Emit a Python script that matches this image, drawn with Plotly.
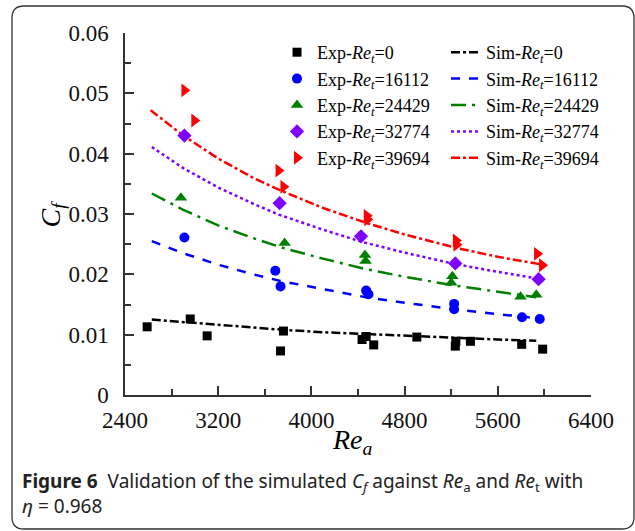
import plotly.graph_objects as go

# ---------------- data ----------------
series_names = ["0", "16112", "24429", "32774", "39694"]
colors = ["#000000", "#0000ff", "#008000", "#8000ff", "#ff0000"]
symbols = ["square", "circle", "triangle-up", "diamond", "triangle-right"]
marker_sizes = [9, 10, 11, 11, 12]
dashes = ["dashdot", "dash", "longdashdot", "dot", "dashdot"]

exp0_x = [2590, 2960, 3105, 3735, 3760, 4435, 4470, 4535, 4905, 5235, 5240, 5365, 5805, 5985]
exp0_y = [0.0113, 0.0126, 0.0098, 0.0073, 0.0106, 0.0092, 0.0097, 0.0083, 0.0096, 0.0081, 0.0089, 0.0089, 0.0084, 0.0076]
exp1_x = [2910, 3690, 3735, 4470, 4490, 5225, 5225, 5808, 5960]
exp1_y = [0.0261, 0.0206, 0.0180, 0.0173, 0.0167, 0.0151, 0.0142, 0.0129, 0.0126]
exp2_x = [2880, 3770, 4460, 4465, 5210, 5200, 5795, 5930]
exp2_y = [0.0327, 0.0252, 0.0232, 0.0222, 0.0197, 0.0186, 0.0163, 0.0166]
exp3_x = [2910, 3727, 4426, 5235, 5950]
exp3_y = [0.0430, 0.0318, 0.0263, 0.0218, 0.0192]
exp4_x = [2910, 2995, 3718, 3760, 4475, 4480, 5240, 5245, 5937, 5980]
exp4_y = [0.0505, 0.0455, 0.0372, 0.0345, 0.0297, 0.0291, 0.0256, 0.0249, 0.0234, 0.0215]

sim0_x = [2630, 2900, 3200, 3500, 3760, 4100, 4470, 4900, 5240, 5600, 5930]
sim0_y = [0.0125, 0.0121, 0.0116, 0.0112, 0.0108, 0.0104, 0.0101, 0.0097, 0.0094, 0.0092, 0.0090]
sim1_x = [2630, 2900, 3200, 3500, 3735, 4100, 4470, 4800, 5225, 5600, 5950]
sim1_y = [0.0255, 0.0235, 0.0216, 0.0200, 0.0189, 0.0175, 0.0162, 0.0153, 0.0142, 0.0134, 0.0127]
sim2_x = [2630, 2900, 3200, 3500, 3770, 4100, 4460, 4800, 5210, 5600, 5930]
sim2_y = [0.0334, 0.0307, 0.0281, 0.0260, 0.0243, 0.0226, 0.0209, 0.0196, 0.0182, 0.0171, 0.0162]
sim3_x = [2630, 2900, 3200, 3500, 3720, 4100, 4430, 4800, 5235, 5600, 5950]
sim3_y = [0.0411, 0.0376, 0.0344, 0.0317, 0.0299, 0.0274, 0.0254, 0.0236, 0.0217, 0.0204, 0.0193]
sim4_x = [2620, 2900, 3200, 3500, 3760, 4100, 4475, 4800, 5240, 5600, 5960]
sim4_y = [0.0472, 0.0430, 0.0392, 0.0360, 0.0337, 0.0310, 0.0285, 0.0266, 0.0244, 0.0229, 0.0217]

exp_x = [exp0_x, exp1_x, exp2_x, exp3_x, exp4_x]
exp_y = [exp0_y, exp1_y, exp2_y, exp3_y, exp4_y]
sim_x = [sim0_x, sim1_x, sim2_x, sim3_x, sim4_x]
sim_y = [sim0_y, sim1_y, sim2_y, sim3_y, sim4_y]

x_ticks = [2400, 3200, 4000, 4800, 5600, 6400]

# ---------------- figure ----------------
W, H = 635, 531
ML, MR, MT, MB = 125, 44, 33, 136
PW, PH = W - ML - MR, H - MT - MB

def px(x):
    return (x - ML) / PW

def py(y):
    return (H - MB - y) / PH

serif = "Liberation Serif"
fig = go.Figure()

for i in range(5):
    fig.add_trace(go.Scatter(
        x=sim_x[i], y=sim_y[i], mode="lines",
        line=dict(color=colors[i], width=2.5, dash=dashes[i]),
        name="Sim-<i>Re</i><sub><i>t</i></sub>=" + series_names[i],
        legend="legend2"))

for i in range(5):
    fig.add_trace(go.Scatter(
        x=exp_x[i], y=exp_y[i], mode="markers",
        marker=dict(color=colors[i], symbol=symbols[i], size=marker_sizes[i]),
        name="Exp-<i>Re</i><sub><i>t</i></sub>=" + series_names[i],
        legend="legend"))

axis_common = dict(
    showgrid=False, zeroline=False, showline=True, linecolor="#333333", linewidth=1.5,
    ticks="inside", ticklen=9, tickwidth=1.5, tickcolor="#333333",
    tickfont=dict(family=serif, size=23, color="#111111"),
    mirror=False,
)

fig.update_xaxes(range=[2400, 6400], tickvals=x_ticks, ticklabelstandoff=4,
                 minor=dict(dtick=400, ticks="inside", ticklen=6, tickwidth=1.5, tickcolor="#333333"),
                 **axis_common)
fig.update_yaxes(range=[0, 0.06], dtick=0.01, ticklabelstandoff=10,
                 minor=dict(dtick=0.005, ticks="inside", ticklen=6, tickwidth=1.5, tickcolor="#333333"),
                 **axis_common)

legend_font = dict(family=serif, size=18, color="#000000")
fig.update_layout(
    width=W, height=H,
    margin=dict(l=ML, r=MR, t=MT, b=MB, autoexpand=False),
    paper_bgcolor="white", plot_bgcolor="white",
    legend=dict(x=px(277), y=py(34), xanchor="left", yanchor="top",
                font=legend_font, bgcolor="rgba(0,0,0,0)", tracegroupgap=0,
                traceorder="normal"),
    legend2=dict(x=px(446), y=py(34), xanchor="left", yanchor="top",
                 font=legend_font, bgcolor="rgba(0,0,0,0)", tracegroupgap=0,
                 traceorder="normal"),
    showlegend=True,
)

# axis titles
fig.add_annotation(text="<i>C</i><sub><i>f</i></sub>", xref="paper", yref="paper",
                   x=px(32), y=py(214), textangle=-90, showarrow=False,
                   font=dict(family=serif, size=28, color="#000000"))
fig.add_annotation(text="<i>Re</i><sub><i>a</i></sub>", xref="paper", yref="paper",
                   x=px(352), y=py(461), showarrow=False,
                   font=dict(family=serif, size=28, color="#000000"))

# caption
fig.add_annotation(
    text="<b>Figure 6</b>  Validation of the simulated <i>C</i><sub><i>f</i></sub> against "
         "<i>Re</i><sub>a</sub> and <i>Re</i><sub>t</sub> with<br><i>η</i> = 0.968",
    xref="paper", yref="paper", x=px(20), y=py(466), xanchor="left", yanchor="top",
    align="left", showarrow=False,
    font=dict(family="Noto Sans", size=19, color="#222222"))

# rounded frame
x0, x1, y0, y1, r = px(12), px(634), py(6), py(529), 12
rx, ry = r / PW, r / PH
path = (f"M {x0+rx},{y0} L {x1-rx},{y0} Q {x1},{y0} {x1},{y0-ry} "
        f"L {x1},{y1+ry} Q {x1},{y1} {x1-rx},{y1} "
        f"L {x0+rx},{y1} Q {x0},{y1} {x0},{y1+ry} "
        f"L {x0},{y0-ry} Q {x0},{y0} {x0+rx},{y0} Z")
fig.add_shape(type="path", path=path, xref="paper", yref="paper",
              line=dict(color="#333333", width=1.3), layer="below")

fig.write_html("out.html", config={"displayModeBar": False},
               post_script="document.body.style.margin='0';document.body.style.overflow='hidden';")
